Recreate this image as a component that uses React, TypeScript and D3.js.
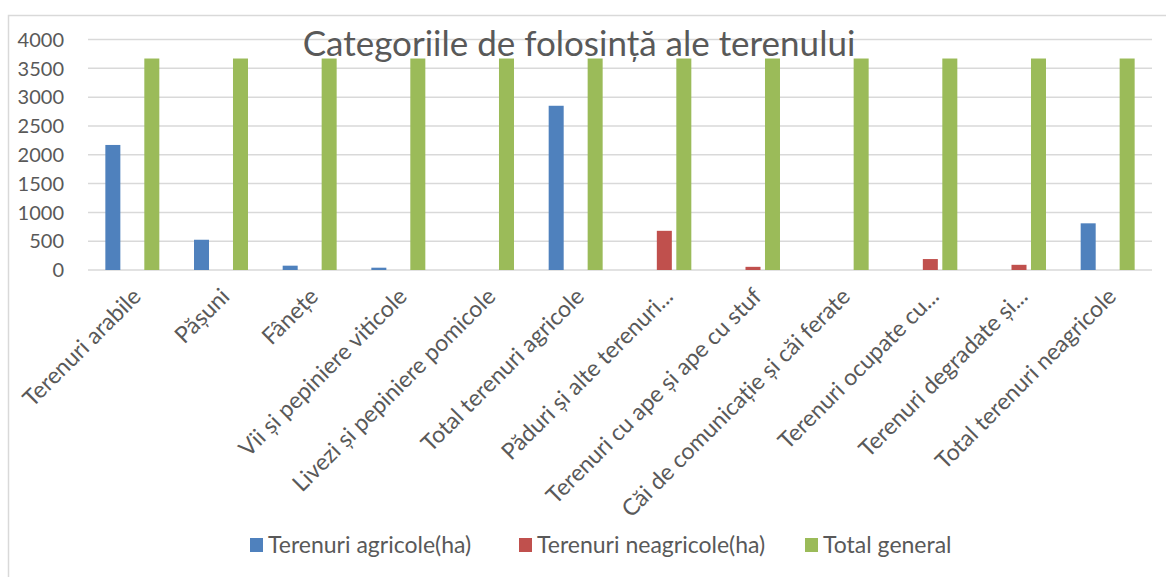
import * as d3 from 'd3';
import { useEffect, useRef } from 'react';

const categories = [
  'Terenuri arabile',
  'Pășuni',
  'Fânețe',
  'Vii și pepiniere viticole',
  'Livezi și pepiniere pomicole',
  'Total terenuri agricole',
  'Păduri și alte terenuri...',
  'Terenuri cu ape și ape cu stuf',
  'Căi de comunicație și căi ferate',
  'Terenuri ocupate cu...',
  'Terenuri degradate și...',
  'Total terenuri neagricole',
];

const seriesNames = ['Terenuri agricole(ha)', 'Terenuri neagricole(ha)', 'Total general'];
const seriesColors = ['#4f81bd', '#c0504d', '#9bbb59'];

const agricole = [2170, 525, 75, 40, 0, 2850, 0, 0, 0, 0, 0, 810];
const neagricole = [0, 0, 0, 0, 0, 0, 680, 55, 0, 190, 90, 0];
const totalGeneral = [3670, 3670, 3670, 3670, 3670, 3670, 3670, 3670, 3670, 3670, 3670, 3670];

const yTicks = [0, 500, 1000, 1500, 2000, 2500, 3000, 3500, 4000];

const FONT = 'Lato, "Open Sans", sans-serif';
const TEXT = '#595959';

const App = () => {
  const ref = useRef<SVGSVGElement>(null);

  useEffect(() => {
    const svg = d3.select(ref.current);
    svg.selectAll('*').remove();

    const W = 1166;
    const left = 88, right = 1152, top = 39.5, bottom = 270;

    // chart frame
    svg.append('rect')
      .attr('x', 8.5).attr('y', 15.5)
      .attr('width', W).attr('height', 600)
      .attr('fill', '#fff').attr('stroke', '#d9d9d9').attr('stroke-width', 1.5);

    const x = d3.scaleBand().domain(categories).range([left, right]).padding(0);
    const inner = d3.scaleBand().domain(seriesNames).range([0, x.bandwidth()])
      .paddingInner(0.23).paddingOuter(0.89);
    const y = d3.scaleLinear().domain([0, 4000]).range([bottom, top]);

    // gridlines
    svg.append('g').selectAll('line').data(yTicks).enter().append('line')
      .attr('x1', left).attr('x2', right)
      .attr('y1', d => y(d)).attr('y2', d => y(d))
      .attr('stroke', '#d9d9d9').attr('stroke-width', 1.5);

    // y labels
    svg.append('g').selectAll('text').data(yTicks).enter().append('text')
      .attr('x', 64).attr('y', d => y(d)).attr('dy', '0.36em')
      .attr('text-anchor', 'end')
      .attr('font-family', FONT).attr('font-size', 20).attr('fill', TEXT)
      .text(d => d);

    // bars
    const values = [agricole, neagricole, totalGeneral];
    seriesNames.forEach((s, si) => {
      svg.append('g').selectAll('rect').data(categories).enter().append('rect')
        .attr('x', c => x(c)! + inner(s)!)
        .attr('y', (_, i) => y(values[si][i]))
        .attr('width', inner.bandwidth())
        .attr('height', (_, i) => bottom - y(values[si][i]))
        .attr('fill', seriesColors[si]);
    });

    // title
    svg.append('text')
      .attr('x', 579).attr('y', 56)
      .attr('text-anchor', 'middle')
      .attr('font-family', FONT).attr('font-size', 35).attr('fill', TEXT)
      .text('Categoriile de folosință ale terenului');

    // category labels
    svg.append('g').selectAll('text').data(categories).enter().append('text')
      .attr('transform', c => `translate(${x(c)! + x.bandwidth() / 2 + 10},${bottom + 28}) rotate(-45)`)
      .attr('text-anchor', 'end')
      .attr('font-family', FONT).attr('font-size', 23).attr('fill', TEXT)
      .text(c => c);

    // legend
    const legendX = [250, 519, 805];
    const lg = svg.append('g');
    seriesNames.forEach((s, i) => {
      lg.append('rect').attr('x', legendX[i]).attr('y', 538)
        .attr('width', 13).attr('height', 14).attr('fill', seriesColors[i]);
      lg.append('text').attr('x', legendX[i] + 18).attr('y', 553)
        .attr('font-family', FONT).attr('font-size', 23).attr('fill', TEXT)
        .text(s);
    });
  }, []);

  return <svg ref={ref} width={1166} height={577} style={{ position: 'absolute', left: 0, top: 0 }} />;
};

export default App;
